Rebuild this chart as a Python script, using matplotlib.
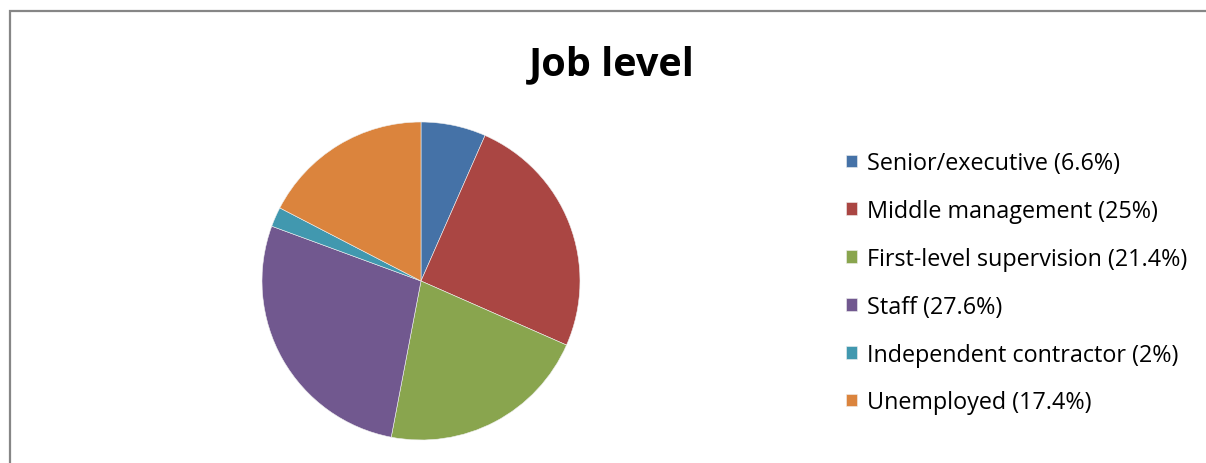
import matplotlib.pyplot as plt
from matplotlib.patches import Rectangle

# Data
categories = ['Senior/executive', 'Middle management', 'First-level supervision',
              'Staff', 'Independent contractor', 'Unemployed']
shares = [6.6, 25, 21.4, 27.6, 2, 17.4]
colors = ['#4572A7', '#AA4643', '#89A54E', '#71588F', '#4198AF', '#DB843D']

labels = [f'{c} ({s:g}%)' for c, s in zip(categories, shares)]

plt.rcParams['font.family'] = ['Open Sans', 'DejaVu Sans']

W, H = 1206, 464
fig = plt.figure(figsize=(W / 100, H / 100), dpi=100)

# Outer chart frame (left and top edges visible only)
fig.patches.append(Rectangle((10 / W, -0.1), 1.2, (H - 11.5) / H + 0.1,
                             transform=fig.transFigure, fill=False,
                             edgecolor='#868686', linewidth=1.6))

# Pie placed in pixel coordinates: centre (421, 282), radius 159
cx, cy, r = 421, 282, 159
ax = fig.add_axes([(cx - r) / W, (H - cy - r) / H, 2 * r / W, 2 * r / H])
wedges, _ = ax.pie(shares, colors=colors, startangle=90, counterclock=False,
                   radius=1, wedgeprops=dict(edgecolor='#f0f0f0', linewidth=0.4))
ax.set_xlim(-1, 1)
ax.set_ylim(-1, 1)
ax.set_aspect('equal')
ax.axis('off')

fig.text(612 / W, 1 - 65 / H, 'Job level', ha='center', va='center',
         fontsize=28.5, fontweight='bold')

leg = fig.legend(wedges, labels, loc='upper left',
                 bbox_to_anchor=(837 / W, 1 - 143 / H),
                 frameon=False, fontsize=16.8, handlelength=0.47, handleheight=0.47,
                 handletextpad=0.42, labelspacing=1.02, borderaxespad=0)

fig.savefig('out.png', dpi=100)
